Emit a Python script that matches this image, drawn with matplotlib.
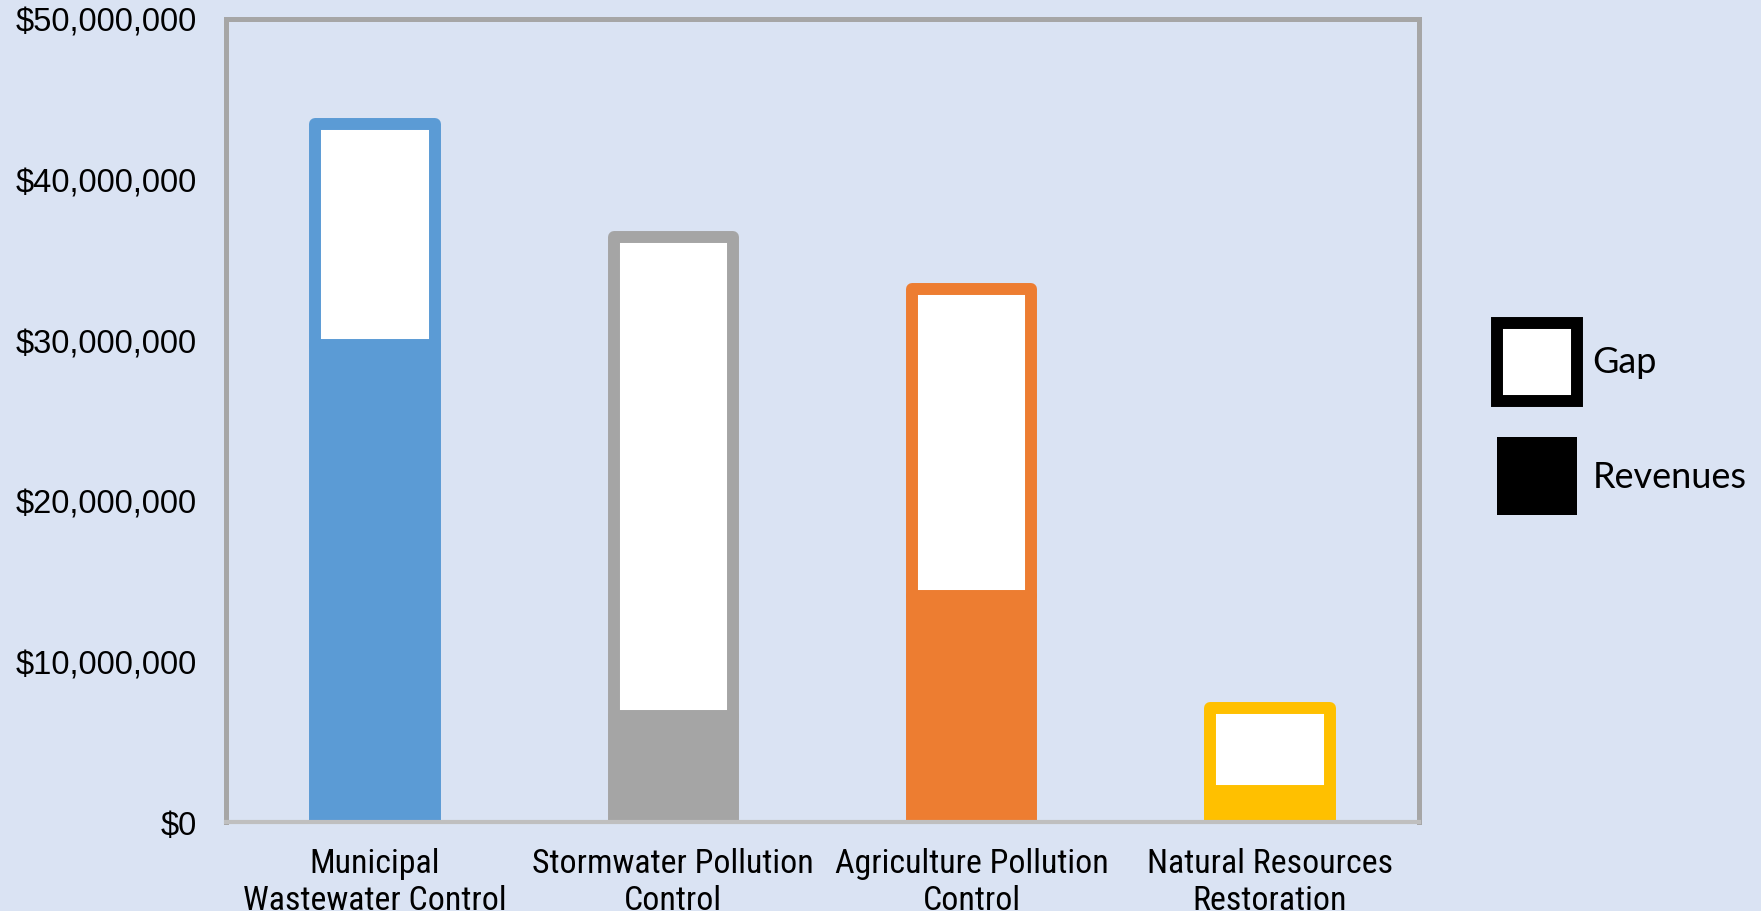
import matplotlib
matplotlib.use("Agg")
import matplotlib.pyplot as plt
import numpy as np
from matplotlib.patches import Patch
from matplotlib.ticker import FuncFormatter

# données (en dollars)
categories = ["Municipal\nWastewater Control", "Stormwater Pollution\nControl",
              "Agriculture Pollution\nControl", "Natural Resources\nRestoration"]
revenues = [29.7e6, 6.6e6, 14.1e6, 1.9e6]
gap = [13.75e6, 29.8e6, 19.1e6, 5.2e6]
couleurs = ["#5B9BD5", "#A5A5A5", "#ED7D31", "#FFC000"]
y_ticks = [0, 10e6, 20e6, 30e6, 40e6, 50e6]

fond = "#DAE3F3"
gris_cadre = "#A6A6A6"

fig = plt.figure(figsize=(17.61, 9.12), dpi=100, facecolor=fond)
ax = fig.add_axes([0.1283, 0.0976, 0.6775, 0.8805], facecolor=fond)

x = np.arange(len(categories))
lw = 8.6  # épaisseur du contour des barres (pt)

# barres empilées : revenus pleins, écart en blanc avec contour coloré
ax.bar(x, revenues, width=0.4, color=couleurs, edgecolor=couleurs,
       linewidth=lw, joinstyle="round", zorder=2)
ax.bar(x, gap, bottom=revenues, width=0.4, color="white", edgecolor=couleurs,
       linewidth=lw, joinstyle="round", zorder=2)

ax.set_xlim(-0.5, len(categories) - 0.5)
ax.set_ylim(0, 50e6)
ax.set_yticks(y_ticks)
ax.yaxis.set_major_formatter(FuncFormatter(lambda v, p: "${:,.0f}".format(v)))
ax.set_xticks(x)
ax.set_xticklabels(categories,
                   family=["Roboto Condensed", "DejaVu Sans Condensed", "DejaVu Sans"],
                   fontstretch="condensed", fontsize=24.4, linespacing=1.19)

for lab in ax.get_yticklabels():
    lab.set_family(["Liberation Sans", "DejaVu Sans"])
    lab.set_fontsize(23.5)
ax.tick_params(axis="y", length=0, pad=21)
ax.tick_params(axis="x", length=0, pad=18)

for cote in ["left", "top", "right"]:
    ax.spines[cote].set_color(gris_cadre)
    ax.spines[cote].set_linewidth(3.6)
ax.spines["bottom"].set_color("#BFBFBF")
ax.spines["bottom"].set_linewidth(3)
ax.spines["bottom"].set_zorder(3)

# légende
handles = [Patch(facecolor="white", edgecolor="black", linewidth=8.6),
           Patch(facecolor="black", edgecolor="black", linewidth=0)]
leg = fig.legend(handles, ["Gap", "Revenues"], loc="center left",
                 bbox_to_anchor=(0.840, 0.5395), frameon=False, borderpad=0,
                 prop={"family": ["Lato", "DejaVu Sans"], "size": 26},
                 handlelength=2.2, handleheight=2.95, labelspacing=1.0,
                 handletextpad=0.43)

fig.savefig("out.png", dpi=100, facecolor=fond)
